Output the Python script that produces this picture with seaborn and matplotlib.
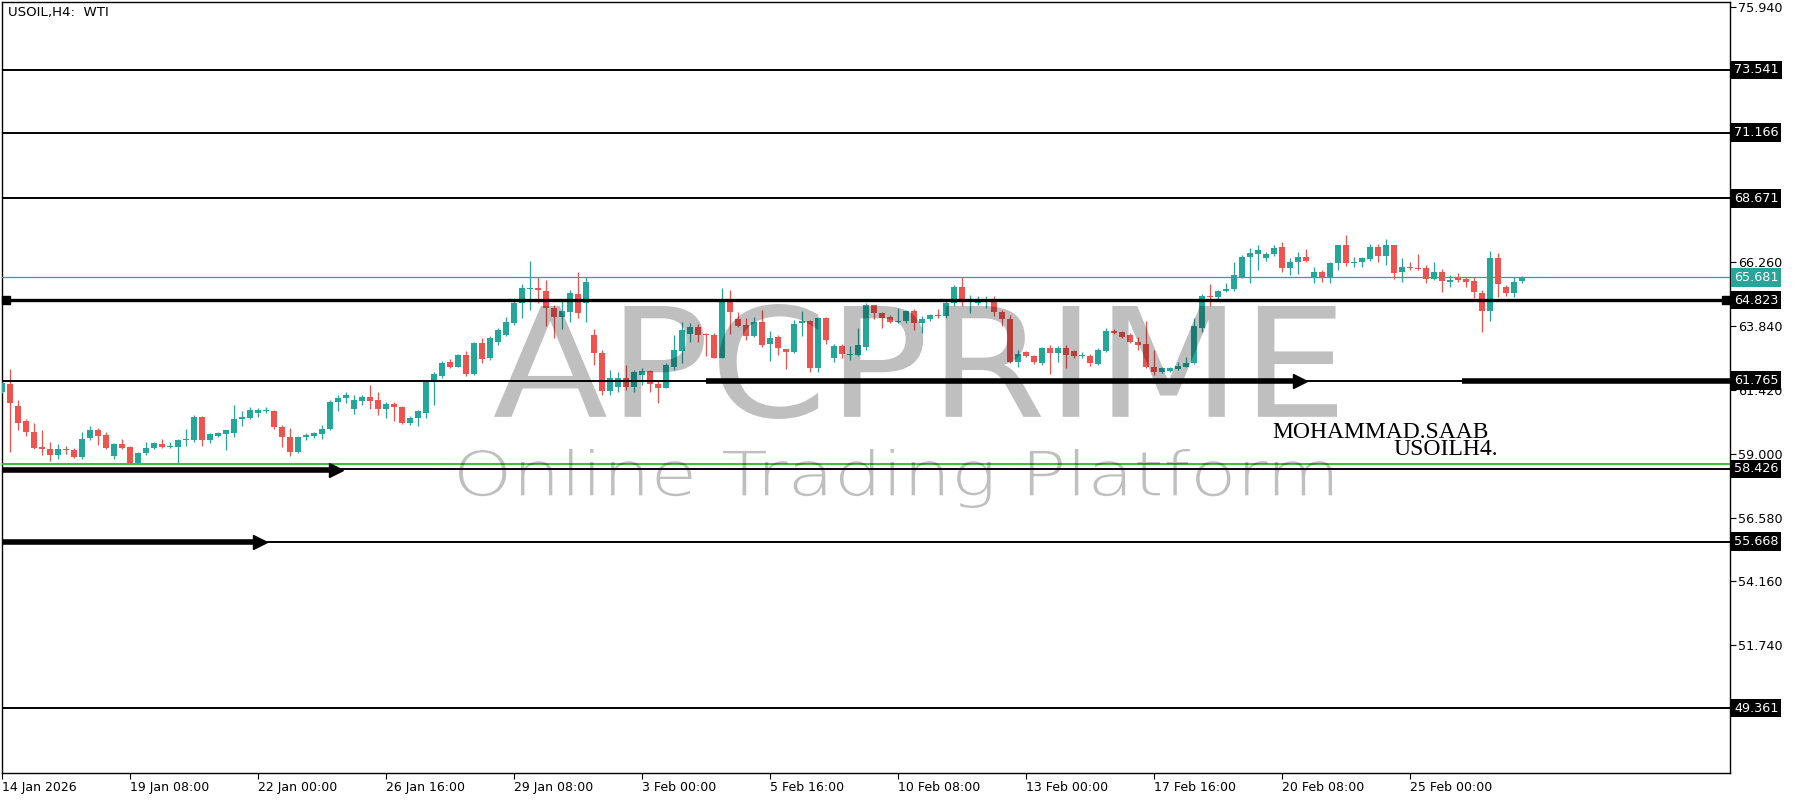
import matplotlib
matplotlib.use("Agg")
import numpy as np
import pandas as pd
import matplotlib.pyplot as plt
import matplotlib.transforms as mtransforms
from matplotlib.textpath import TextPath
from matplotlib.patches import PathPatch
from matplotlib.font_manager import FontProperties
import seaborn as sns

# =====================================================
# DADOS (USOIL H4)
# =====================================================
opens = [61.35, 61.64, 60.81, 60.22, 59.82, 59.27, 59.18, 58.95, 59.18, 59.14,
         58.89, 59.59, 59.90, 59.70, 58.92, 59.37, 59.27, 58.64, 59.02, 59.21,
         59.37, 59.25, 59.27, 59.50, 59.52, 60.38, 59.52, 59.67, 59.75, 59.80,
         60.31, 60.34, 60.56, 60.63, 60.63, 60.00, 59.65, 59.08, 59.62, 59.67,
         59.75, 59.94, 60.94, 61.10, 60.68, 61.01, 61.16, 61.04, 60.71, 60.89,
         60.76, 60.15, 60.34, 60.56, 61.73, 61.95, 62.49, 62.30, 62.74, 62.02,
         63.21, 62.62, 63.25, 63.50, 63.94, 64.70, 65.24, 65.27, 65.17, 64.53,
         64.19, 64.38, 65.04, 64.70, 63.50, 62.80, 61.38, 61.54, 61.88, 61.54,
         61.98, 62.14, 61.63, 61.50, 62.30, 62.89, 63.52, 63.81, 63.54, 63.50,
         62.64, 64.83, 64.11, 63.88, 63.47, 63.98, 63.15, 63.44, 62.96, 62.87,
         63.94, 64.03, 62.24, 64.16, 62.61, 63.09, 62.74, 62.74, 63.06, 64.64,
         64.32, 64.19, 63.98, 64.03, 64.39, 63.94, 64.11, 64.24, 64.20, 64.70,
         65.33, 64.74, 64.70, 64.77, 64.83, 64.36, 64.11, 62.49, 62.85, 62.72,
         62.43, 63.00, 62.81, 63.02, 62.90, 62.72, 62.72, 62.39, 62.90, 63.65,
         63.60, 63.48, 63.25, 63.15, 62.30, 62.11, 62.14, 62.20, 62.30, 62.43,
         63.76, 64.99, 64.92, 65.17, 65.25, 65.71, 66.47, 66.56, 66.43, 66.56,
         66.85, 66.03, 66.28, 66.47, 65.65, 65.88, 65.71, 66.22, 66.89, 66.22,
         66.28, 66.38, 66.85, 66.51, 66.89, 65.90, 66.09, 66.03, 66.03, 65.63,
         65.88, 65.50, 65.68, 65.63, 65.55, 65.08, 64.39, 66.43, 65.30, 65.08,
         65.55]
highs = [61.73, 62.20, 61.04, 60.30, 60.15, 59.90, 59.46, 59.37, 59.29, 59.21,
         59.84, 60.03, 59.97, 59.84, 59.42, 59.55, 59.29, 59.08, 59.46, 59.46,
         59.56, 59.46, 59.55, 59.93, 60.47, 60.43, 59.77, 59.84, 59.90, 60.85,
         60.60, 60.76, 60.72, 60.76, 60.66, 60.09, 59.96, 59.67, 59.77, 59.84,
         60.09, 61.04, 61.23, 61.32, 61.23, 61.23, 61.61, 61.35, 60.97, 60.97,
         60.81, 60.41, 60.66, 61.80, 62.11, 62.53, 62.58, 62.78, 62.91, 63.25,
         63.37, 63.46, 63.75, 64.19, 64.91, 65.42, 66.30, 65.71, 65.58, 64.64,
         64.79, 65.20, 65.90, 65.71, 63.73, 62.93, 62.17, 62.08, 62.36, 62.17,
         62.24, 62.17, 61.79, 62.43, 63.50, 64.00, 63.94, 63.90, 63.56, 63.56,
         65.27, 65.20, 64.38, 64.13, 64.19, 64.45, 63.65, 63.50, 62.97, 64.07,
         64.41, 64.07, 64.19, 64.19, 63.15, 63.15, 63.09, 63.75, 64.70, 64.64,
         64.38, 64.26, 64.53, 64.45, 64.49, 64.20, 64.29, 64.49, 64.77, 65.40,
         65.71, 65.02, 64.96, 64.96, 64.96, 64.45, 64.26, 62.93, 62.90, 62.75,
         63.06, 63.12, 63.09, 63.10, 62.93, 62.87, 62.77, 63.02, 63.76, 63.73,
         63.65, 63.57, 63.44, 64.01, 62.93, 62.30, 62.27, 62.49, 62.68, 64.13,
         65.04, 65.42, 65.21, 65.46, 66.26, 66.53, 66.79, 66.89, 66.64, 66.91,
         67.04, 66.41, 66.64, 66.76, 66.09, 65.97, 66.28, 66.91, 67.27, 66.47,
         66.47, 66.94, 66.94, 67.14, 66.89, 66.43, 66.28, 66.56, 66.16, 66.28,
         66.00, 65.78, 65.84, 65.71, 65.68, 65.21, 66.69, 66.60, 65.40, 65.68,
         65.75]
lows = [61.29, 59.08, 59.90, 59.67, 59.17, 58.95, 58.74, 58.79, 58.99, 58.83,
        58.79, 59.52, 59.33, 59.17, 58.79, 59.17, 58.61, 58.61, 58.95, 59.17,
        59.21, 59.21, 58.66, 59.30, 59.46, 59.30, 59.42, 59.62, 59.14, 59.65,
        60.03, 60.31, 60.38, 60.53, 59.93, 59.27, 58.92, 59.02, 59.50, 59.59,
        59.55, 59.90, 60.63, 60.91, 60.50, 60.85, 60.68, 60.47, 60.34, 60.25,
        60.13, 60.09, 60.05, 60.34, 60.85, 61.86, 62.24, 62.28, 61.95, 61.98,
        62.43, 62.55, 63.12, 63.47, 63.88, 64.16, 64.45, 64.70, 63.85, 63.37,
        63.73, 64.00, 64.16, 64.00, 62.36, 61.23, 61.23, 61.35, 61.41, 61.33,
        61.60, 61.35, 60.91, 61.48, 62.17, 62.42, 63.22, 63.22, 62.72, 62.61,
        62.61, 63.52, 63.81, 63.31, 63.44, 63.06, 62.51, 62.74, 62.21, 62.80,
        63.47, 62.08, 62.11, 63.15, 62.49, 62.61, 62.55, 62.72, 62.93, 64.11,
        63.75, 63.94, 63.94, 63.94, 63.69, 63.57, 64.03, 64.16, 64.16, 64.61,
        64.58, 64.32, 64.64, 64.51, 64.20, 63.82, 62.43, 62.27, 62.68, 62.39,
        62.37, 62.01, 62.49, 62.24, 62.64, 62.64, 62.34, 62.37, 62.85, 63.53,
        63.40, 63.19, 62.93, 62.24, 61.99, 62.05, 62.11, 62.18, 62.27, 62.39,
        63.63, 64.61, 64.87, 65.12, 65.17, 65.65, 65.46, 65.97, 66.31, 66.51,
        65.88, 65.78, 65.80, 66.28, 65.46, 65.52, 65.46, 65.97, 66.13, 66.09,
        66.09, 66.31, 66.28, 66.16, 65.62, 65.52, 65.97, 65.97, 65.46, 65.59,
        65.12, 65.33, 65.52, 65.33, 64.89, 63.60, 64.03, 64.92, 64.96, 64.92,
        65.46]
closes = [61.67, 60.91, 60.18, 59.84, 59.23, 59.17, 58.95, 59.18, 59.14, 58.87,
          59.55, 59.90, 59.67, 59.23, 59.37, 59.23, 58.64, 59.02, 59.23, 59.42,
          59.25, 59.30, 59.50, 59.56, 60.38, 59.50, 59.74, 59.77, 59.88, 60.31,
          60.38, 60.66, 60.66, 60.66, 60.00, 59.65, 59.08, 59.62, 59.71, 59.77,
          59.94, 60.97, 61.10, 61.23, 61.04, 61.16, 61.01, 60.71, 60.89, 60.76,
          60.18, 60.34, 60.60, 61.73, 62.02, 62.45, 62.30, 62.74, 62.02, 63.21,
          62.58, 63.37, 63.69, 64.00, 64.70, 65.27, 65.27, 65.20, 64.51, 64.19,
          64.41, 65.08, 64.32, 65.52, 62.80, 61.38, 61.88, 61.88, 61.54, 62.11,
          62.14, 61.63, 61.50, 62.36, 62.93, 63.69, 63.81, 63.50, 63.49, 62.64,
          64.83, 64.36, 63.85, 63.47, 63.98, 63.12, 63.40, 62.99, 62.87, 63.90,
          64.03, 62.24, 64.16, 63.31, 63.09, 62.77, 62.78, 63.12, 64.64, 64.32,
          64.16, 63.98, 64.03, 64.39, 63.94, 64.11, 64.24, 64.20, 64.70, 65.33,
          64.74, 64.79, 64.77, 64.83, 64.36, 64.11, 62.49, 62.77, 62.72, 62.49,
          63.00, 62.81, 63.02, 62.75, 62.72, 62.75, 62.43, 62.93, 63.65, 63.57,
          63.44, 63.23, 63.12, 62.30, 62.11, 62.24, 62.24, 62.34, 62.43, 63.82,
          64.99, 64.92, 65.17, 65.25, 65.78, 66.47, 66.60, 66.72, 66.56, 66.81,
          66.03, 66.26, 66.47, 66.31, 65.88, 65.71, 66.22, 66.89, 66.22, 66.26,
          66.43, 66.85, 66.51, 66.89, 65.84, 66.09, 66.03, 66.00, 65.63, 65.88,
          65.55, 65.59, 65.59, 65.52, 65.12, 64.39, 66.43, 65.42, 65.08, 65.52,
          65.71]

# rótulos do eixo de tempo (a cada 16 barras H4)
tick_bars = [0, 16, 32, 48, 64, 80, 96, 112, 128, 144, 160, 176]
tick_labels = ["14 Jan 2026", "19 Jan 08:00", "22 Jan 00:00", "26 Jan 16:00",
               "29 Jan 08:00", "3 Feb 00:00", "5 Feb 16:00", "10 Feb 08:00",
               "13 Feb 00:00", "17 Feb 16:00", "20 Feb 08:00", "25 Feb 00:00"]

# escala de preços (apenas os rótulos visíveis)
price_ticks = [75.940, 66.260, 63.840, 61.420, 59.000, 56.580, 54.160, 51.740]
y_range = (46.898, 76.118)
n_slots = 216

# níveis horizontais desenhados
levels_thin = [73.541, 71.166, 68.671, 61.765, 58.426, 55.668, 49.361]
level_main = 64.823
level_green = 58.60
price_now = 65.681
# segmentos grossos com seta: (nível, barra inicial, barra final/ponta, seta?)
thick_segments = [(61.765, 88, 163, True), (61.765, 182.5, 216, False),
                  (58.40, 0, 42.5, True), (55.668, 0, 33, True)]

BULL = '#26a69a'
BEAR = '#ef5350'

df = pd.DataFrame({'open': opens, 'high': highs, 'low': lows, 'close': closes})
df['bar'] = np.arange(len(df))
df['cor'] = np.where(df['close'] >= df['open'], BULL, BEAR)
df['base'] = df[['open', 'close']].min(axis=1)
df['corpo'] = (df['close'] - df['open']).abs().clip(lower=0.035)

# =====================================================
# FIGURA
# =====================================================
sns.set_theme(style='white')
plt.rcParams['font.family'] = ['DejaVu Sans']

W, H, DPI = 1800, 800, 100
fig = plt.figure(figsize=(W / DPI, H / DPI), dpi=DPI)
ax = fig.add_axes([2 / W, 27 / H, 1728 / W, 771 / H])
ax.set_xlim(0, n_slots)
ax.set_ylim(*y_range)

# velas
ax.vlines(df['bar'], df['low'], df['high'], colors=df['cor'], lw=0.9, zorder=3)
ax.bar(df['bar'], df['corpo'], bottom=df['base'], width=0.68, color=df['cor'],
       linewidth=0, zorder=4)

# linhas horizontais
for lv in levels_thin:
    ax.axhline(lv, color='black', lw=1.4, zorder=5)
ax.axhline(level_main, color='black', lw=2.4, zorder=5)
ax.plot([0.5, n_slots - 0.5], [level_main, level_main], 's', color='black',
        ms=6, clip_on=False, zorder=6)
ax.axhline(price_now, color=BULL, lw=0.9, zorder=5)

for lv, x0, x1, seta in thick_segments:
    ax.plot([x0, x1 - (1.2 if seta else 0)], [lv, lv], color='black', lw=4,
            solid_capstyle='butt', zorder=6)
    if seta:
        ax.plot(x1 - 0.75, lv, marker='>', ms=10, color='black', zorder=7)
ax.axhline(level_green, color='#2db82d', lw=1.3, zorder=6.5)


# marca d'água: texto ajustado a uma caixa (em pixels da figura, origem no topo)
def marca_dagua(texto, caixa, props):
    tp = TextPath((0, 0), texto, size=1, prop=props)
    ext = tp.get_extents()
    x0, y0, x1, y1 = caixa
    tr = (mtransforms.Affine2D()
          .translate(-ext.x0, -ext.y0)
          .scale((x1 - x0) / ext.width, (y1 - y0) / ext.height)
          .translate(x0, H - y1)
          .scale(1 / DPI)) + fig.dpi_scale_trans
    patch = PathPatch(tp, transform=tr, fc='black', ec='none', alpha=0.25, zorder=8)
    ax.add_artist(patch)


marca_dagua('APCPRIME', (494, 304, 1337, 419), FontProperties(family='DejaVu Sans'))
marca_dagua('Online Trading Platform', (459, 449, 1332, 508),
            FontProperties(family='DejaVu Sans', weight='light'))

# assinatura
ax.text(0.8605, 0.442, 'MOHAMMAD.SAAB', transform=ax.transAxes, ha='right',
        va='center', fontsize=17, family='Liberation Serif', color='black', zorder=9)
ax.text(0.8657, 0.419, 'USOILH4.', transform=ax.transAxes, ha='right',
        va='center', fontsize=17, family='Liberation Serif', color='black', zorder=9)

ax.text(0.0035, 0.987, 'USOIL,H4:  WTI', transform=ax.transAxes, ha='left',
        va='center', fontsize=9.6, color='black')

# eixos
ax.yaxis.tick_right()
ax.set_yticks(price_ticks, [f'{p:.3f}' for p in price_ticks])
ax.set_xticks(tick_bars, tick_labels)
for lab in ax.get_xticklabels():
    lab.set_ha('left')
ax.tick_params(axis='y', direction='out', length=4, width=0.8, pad=2,
               labelsize=9.2, colors='black', right=True, left=False)
ax.tick_params(axis='x', direction='out', length=4, width=0.8, pad=2,
               labelsize=9, colors='black', bottom=True)
for sp in ax.spines.values():
    sp.set_color('black')
    sp.set_linewidth(1.0)
    sp.set_visible(True)
ax.grid(False)

# caixas de preço no eixo direito
trans = mtransforms.blended_transform_factory(ax.transAxes, ax.transData)
for lv in levels_thin + [level_main]:
    ax.text(1.0024, lv, f'{lv:.3f}', transform=trans, ha='left', va='center',
            fontsize=9.2, color='white', clip_on=False, zorder=10,
            bbox=dict(boxstyle='square,pad=0.22', fc='black', ec='none'))
ax.text(1.0024, price_now, f'{price_now:.3f}', transform=trans, ha='left',
        va='center', fontsize=9.2, color='white', clip_on=False, zorder=10,
        bbox=dict(boxstyle='square,pad=0.22', fc=BULL, ec='none'))

fig.savefig('out.png', dpi=DPI, facecolor='white')
